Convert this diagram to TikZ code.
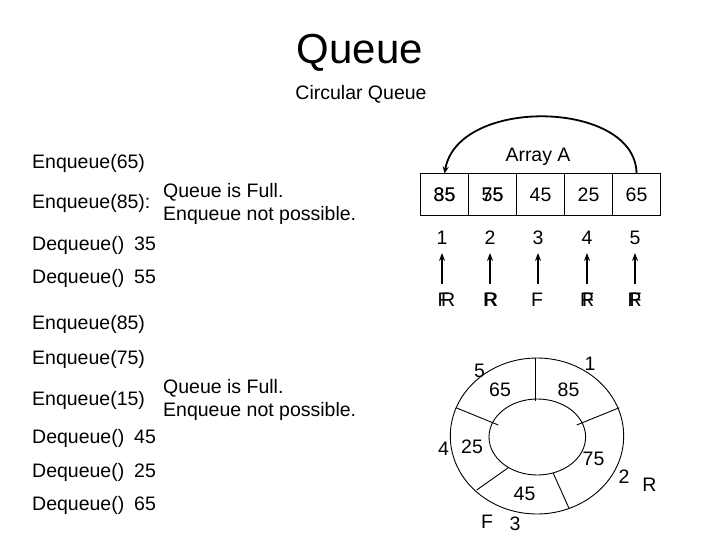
\documentclass[tikz,border=0pt]{standalone}
\usepackage{fontspec}
\setmainfont{Liberation Sans}
\usetikzlibrary{arrows.meta}
\begin{document}
\begin{tikzpicture}[x=1pt,y=-1pt,
  txt/.style={font=\fontsize{19.5}{23.4}\selectfont, inner sep=0pt},
  lt/.style={txt, anchor=base west},
  cell/.style={draw, line width=1pt, minimum width=48pt, minimum height=42pt, inner sep=0pt, font=\fontsize{19.5}{23.4}\selectfont},
  ptr/.style={line width=1.8pt, -{Stealth[length=8pt,width=6pt]}},
  ring/.style={line width=0.9pt}]
\useasboundingbox (0,0) rectangle (720,540);
\fill[white] (0,0) rectangle (720,540);
% titles
\node[font=\fontsize{42}{48}\selectfont, inner sep=0pt, anchor=base] (title) at (360,64) {Queue};
\node[txt, anchor=base] (sub) at (361,100) {Circular Queue};
% left column
\node[lt] (e65) at (32,169) {Enqueue(65)};
\node[lt] (e85a) at (32,208) {Enqueue(85):};
\node[lt] (full1) at (163,198) {Queue is Full.};
\node[lt] (np1) at (163,221) {Enqueue not possible.};
\node[lt] (d35) at (32,250) {\makebox[102pt][l]{Dequeue()}35};
\node[lt] (d55) at (32,283) {\makebox[102pt][l]{Dequeue()}55};
\node[lt] (e85b) at (32,329) {Enqueue(85)};
\node[lt] (e75) at (32,364) {Enqueue(75)};
\node[lt] (e15) at (32,405) {Enqueue(15)};
\node[lt] (full2) at (163,393) {Queue is Full.};
\node[lt] (np2) at (163,416) {Enqueue not possible.};
\node[lt] (d45) at (32,443) {\makebox[102pt][l]{Dequeue()}45};
\node[lt] (d25) at (32,477) {\makebox[102pt][l]{Dequeue()}25};
\node[lt] (d65) at (32,510) {\makebox[102pt][l]{Dequeue()}65};
% array
\node[txt, anchor=base] (arr) at (538,162) {Array A};
\node[cell] (c1) at (444.5,195) {85};
\node[cell] (c2) at (492.5,195) {75};
\node[cell] (c3) at (540.5,195) {45};
\node[cell] (c4) at (588.5,195) {25};
\node[cell] (c5) at (636.5,195) {65};
\node[txt] (c1b) at (c1) {35};
\node[txt] (c2b) at (c2) {55};
\draw[line width=1.8pt, -{Stealth[length=7pt,width=6pt]}] (c5.north) .. controls (636,100) and (458,96) .. (c1.north);
% indices
\node[txt] (i1) at (442,238) {1};
\node[txt] (i2) at (490,238) {2};
\node[txt] (i3) at (538,238) {3};
\node[txt] (i4) at (587,238) {4};
\node[txt] (i5) at (635,238) {5};
\coordinate (p1) at (442,284); \coordinate (q1) at (442,253);
\coordinate (p2) at (490,284); \coordinate (q2) at (490,253);
\coordinate (p3) at (538,284); \coordinate (q3) at (538,253);
\coordinate (p4) at (587,284); \coordinate (q4) at (587,253);
\coordinate (p5) at (635,284); \coordinate (q5) at (635,253);
\draw[ptr] (p1) -- (q1);
\draw[ptr] (p2) -- (q2);
\draw[ptr] (p3) -- (q3);
\draw[ptr] (p4) -- (q4);
\draw[ptr] (p5) -- (q5);
% pointer labels
\node[lt] (f1) at (437.5,306) {F};
\node[lt] (r1) at (441,306) {R};
\node[lt] (r2a) at (483,306) {R};
\node[lt] (r2b) at (484,306) {R};
\node[lt] (f3) at (531,306) {F};
\node[lt] (f4) at (582,306) {F};
\node[lt] (r4) at (580,306) {R};
\node[lt] (f5) at (629.5,306) {F};
\node[lt] (r5) at (627.5,306) {R};
% circular picture
\draw[ring] (537,436) ellipse [x radius=86.7, y radius=78];
\draw[ring] (537.3,437) ellipse [x radius=48.3, y radius=38];
\draw[ring] (535,358) -- (535,401);
\draw[ring] (619.3,407.7) -- (576.7,425);
\draw[ring] (456,407.7) -- (498.3,425);
\draw[ring] (476.7,490) -- (508.3,467.7);
\draw[ring] (569,508.3) -- (553.3,473.3);
\node[txt] (k5) at (479.5,371) {5};
\node[txt] (k1) at (590,364) {1};
\node[txt] (v65) at (500,390) {65};
\node[txt] (v85) at (568.5,389.5) {85};
\node[txt] (k4) at (443.5,448.5) {4};
\node[txt] (v25) at (472,447) {25};
\node[txt] (v75) at (593.5,458.5) {75};
\node[txt] (k2) at (624,477) {2};
\node[txt] (kr) at (649.5,485) {R};
\node[txt] (v45) at (524.5,494) {45};
\node[txt] (kf) at (487,522) {F};
\node[txt] (k3) at (515,523.5) {3};
\end{tikzpicture}
\end{document}
